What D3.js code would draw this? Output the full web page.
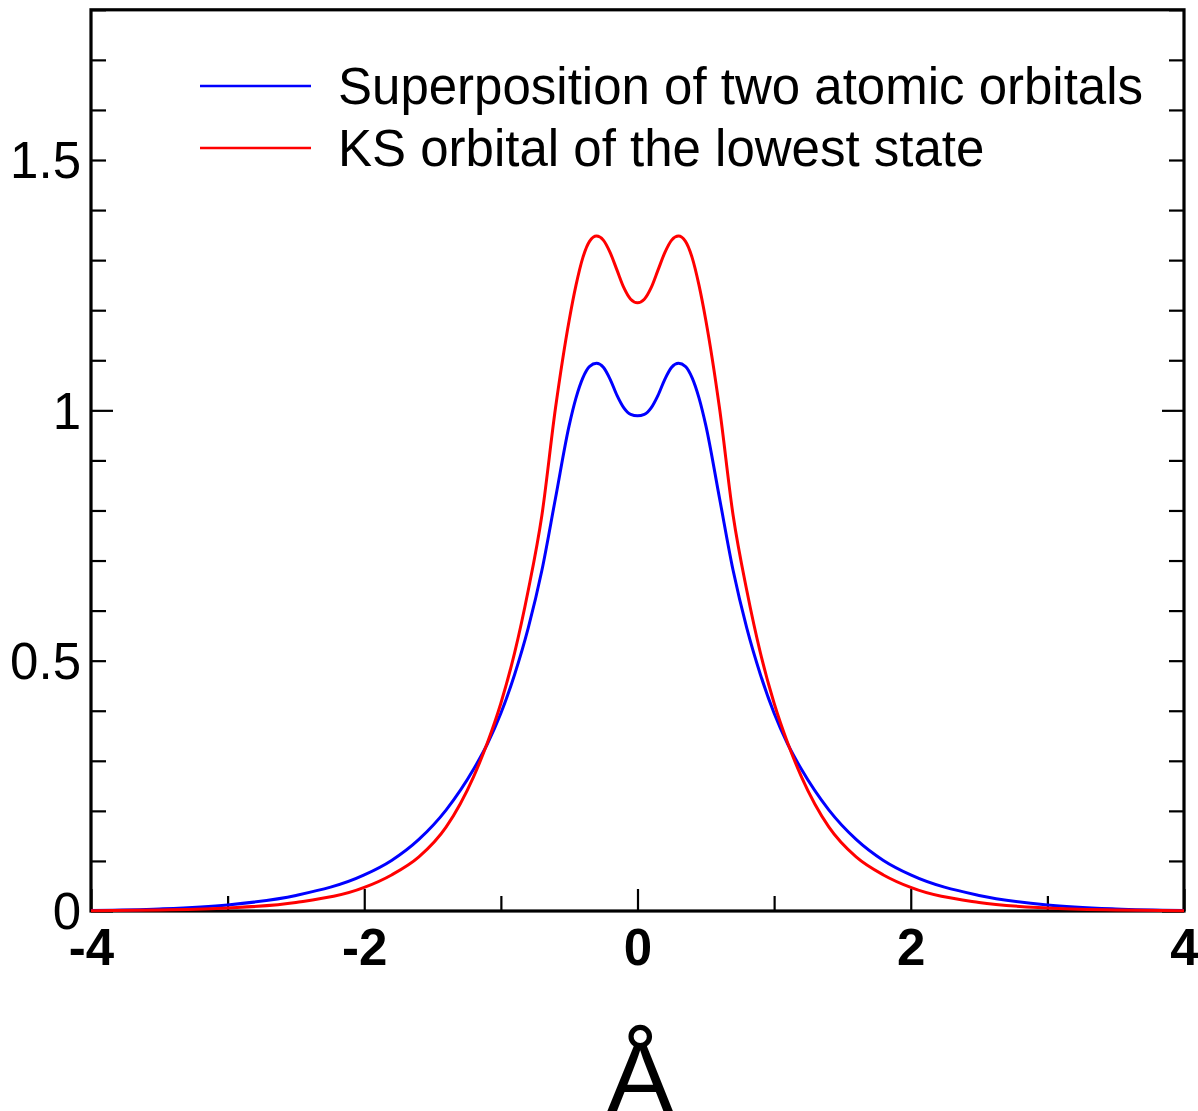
<!DOCTYPE html>
<html>
<head>
<meta charset="utf-8">
<script src="https://cdn.jsdelivr.net/npm/d3@7"></script>
<style>
  html, body { margin: 0; padding: 0; background: #fff; }
  svg { display: block; }
</style>
</head>
<body>
<script>
// ---- data ----
const xValues = [-4, -3.5, -3, -2.5, -2, -1.8, -1.6, -1.4, -1.2, -1.1, -1.0, -0.9, -0.8, -0.7, -0.6, -0.5, -0.45, -0.4, -0.35, -0.3, -0.25, -0.2, -0.15, -0.1, -0.05, 0,
                 0.05, 0.1, 0.15, 0.2, 0.25, 0.3, 0.35, 0.4, 0.45, 0.5, 0.6, 0.7, 0.8, 0.9, 1.0, 1.1, 1.2, 1.4, 1.6, 1.8, 2, 2.5, 3, 3.5, 4];
const superposition = [0.001, 0.004, 0.012, 0.031, 0.072, 0.101, 0.143, 0.202, 0.283, 0.333, 0.395, 0.472, 0.565, 0.68, 0.825, 0.97, 1.025, 1.065, 1.088, 1.094, 1.086, 1.062, 1.03, 1.005, 0.992, 0.989,
                       0.992, 1.005, 1.03, 1.062, 1.086, 1.094, 1.088, 1.065, 1.025, 0.97, 0.825, 0.68, 0.565, 0.472, 0.395, 0.333, 0.283, 0.202, 0.143, 0.101, 0.072, 0.031, 0.012, 0.004, 0.001];
const ksOrbital = [0.0005, 0.002, 0.006, 0.017, 0.047, 0.072, 0.108, 0.168, 0.268, 0.335, 0.415, 0.515, 0.64, 0.79, 1.005, 1.18, 1.25, 1.305, 1.338, 1.348, 1.34, 1.315, 1.28, 1.245, 1.222, 1.215,
                   1.222, 1.245, 1.28, 1.315, 1.34, 1.348, 1.338, 1.305, 1.25, 1.18, 1.005, 0.79, 0.64, 0.515, 0.415, 0.335, 0.268, 0.168, 0.108, 0.072, 0.047, 0.017, 0.006, 0.002, 0.0005];
const seriesNames = ["Superposition of two atomic orbitals", "KS orbital of the lowest state"];
const seriesColors = ["#0000ff", "#ff0000"];
const xTickValues = [-4, -3, -2, -1, 0, 1, 2, 3, 4];
const xTickLabels = {"-4": "-4", "-2": "-2", "0": "0", "2": "2", "4": "4"};
const yTickValues = d3.range(0, 18.5, 1).map(d => +(d / 10).toFixed(1));
const yTickLabels = {"0": "0", "0.5": "0.5", "1": "1", "1.5": "1.5"};
const xTitle = "Å";

// ---- layout ----
const W = 1198, H = 1111;
const mLeft = 91, mRight = 1184, mTop = 9.8, mBottom = 911;

const svg = d3.select("body").append("svg").attr("width", W).attr("height", H)
  .style("font-family", "'Liberation Sans', Arial, sans-serif");

const x = d3.scaleLinear().domain([-4, 4]).range([mLeft, mRight]);
const y = d3.scaleLinear().domain([0, 1.8]).range([mBottom, mTop]);

// y axis left
const yAxisL = svg.append("g").attr("transform", `translate(${mLeft},0)`)
  .call(d3.axisLeft(y).tickValues(yTickValues).tickSize(-15).tickPadding(10)
    .tickFormat(d => yTickLabels[String(d)] || ""));
yAxisL.select(".domain").remove();
yAxisL.selectAll(".tick line").attr("stroke", "#000").attr("stroke-width", 2.2)
  .attr("x2", d => Number.isInteger(d) ? 22 : 15);
yAxisL.selectAll(".tick text").attr("font-size", 51).attr("fill", "#000").attr("dy", "0.35em");

// y axis right (ticks only)
const yAxisR = svg.append("g").attr("transform", `translate(${mRight},0)`)
  .call(d3.axisRight(y).tickValues(yTickValues).tickSize(-15).tickFormat(""));
yAxisR.select(".domain").remove();
yAxisR.selectAll(".tick line").attr("stroke", "#000").attr("stroke-width", 2.2)
  .attr("x2", d => Number.isInteger(d) ? -22 : -15);

// x axis bottom
const xAxis = svg.append("g").attr("transform", `translate(0,${mBottom})`)
  .call(d3.axisBottom(x).tickValues(xTickValues).tickSize(-15).tickPadding(18)
    .tickFormat(d => xTickLabels[String(d)] || ""));
xAxis.select(".domain").remove();
xAxis.selectAll(".tick line").attr("stroke", "#000").attr("stroke-width", 2.2)
  .attr("y2", d => (d % 2 === 0) ? -22 : -15);
xAxis.selectAll(".tick text").attr("font-size", 51).attr("font-weight", "bold").attr("fill", "#000");

// frame
svg.append("rect").attr("x", mLeft).attr("y", mTop).attr("width", mRight - mLeft).attr("height", mBottom - mTop)
  .attr("fill", "none").attr("stroke", "#000").attr("stroke-width", 3.2);

// curves
const pts = [superposition, ksOrbital].map(vals => vals.map((v, i) => [xValues[i], v]));
const line = d3.line().x(d => x(d[0])).y(d => y(d[1])).curve(d3.curveMonotoneX);
pts.forEach((p, i) => {
  svg.append("path").datum(p).attr("d", line).attr("fill", "none")
    .attr("stroke", seriesColors[i]).attr("stroke-width", 3).attr("stroke-linejoin", "round");
});

// legend
const legendY = [86, 148];
seriesNames.forEach((name, i) => {
  svg.append("line").attr("x1", 200).attr("x2", 311).attr("y1", legendY[i]).attr("y2", legendY[i])
    .attr("stroke", seriesColors[i]).attr("stroke-width", 2.6);
  svg.append("text").attr("x", 338).attr("y", legendY[i]).attr("dy", "0.35em")
    .attr("font-size", 51).attr("fill", "#000").text(name);
});

// x title
svg.append("text").attr("x", 640).attr("y", 1112).attr("text-anchor", "middle")
  .attr("font-size", 100).attr("fill", "#000").text(xTitle);
</script>
</body>
</html>
